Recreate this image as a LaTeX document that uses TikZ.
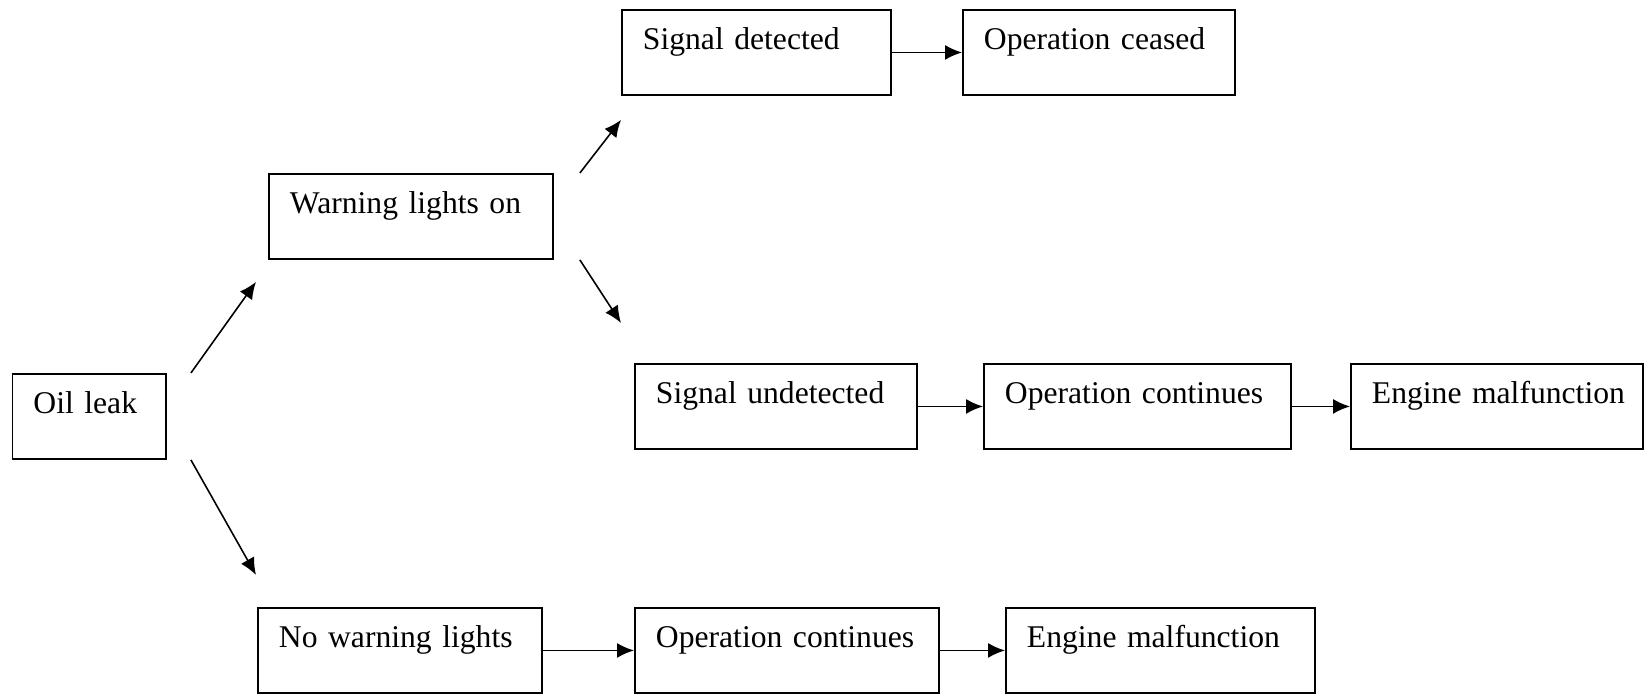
\documentclass[tikz,border=0pt]{standalone}
\usepackage{fontspec}
\setmainfont{Liberation Serif}
\usetikzlibrary{arrows.meta}
\tikzset{
  box/.style={draw, line width=1.1pt, anchor=north west, align=left,
    inner xsep=0.42cm, inner ysep=0pt, text height=0.8cm, text depth=0.9cm,
    font=\fontsize{18}{22}\selectfont},
  arr/.style={-{Latex[length=0.34cm,width=0.3cm]}, line width=0.9pt},
}
\begin{document}
\begin{tikzpicture}[x=0.02cm, y=0.02cm]
    \useasboundingbox (0,0) rectangle (1644,694);
    % boxes
    \node[box, text width=2.23cm] (oil) at (11.5,321) {\mbox{Oil leak}};
    \node[box, text width=4.84cm] (warn) at (268,521) {\mbox{Warning lights on}};
    \node[box, text width=4.54cm] (sdet) at (621,685) {\mbox{Signal detected}};
    \node[box, text width=4.60cm] (ceased) at (962,685) {\mbox{Operation ceased}};
    \node[box, text width=4.80cm] (sund) at (634,331) {\mbox{Signal undetected}};
    \node[box, text width=5.30cm] (opc1) at (983,331) {\mbox{Operation continues}};
    \node[box, text width=5.00cm] (eng1) at (1350,331) {\mbox{Engine malfunction}};
    \node[box, text width=4.84cm] (nowarn) at (257,87) {\mbox{No warning lights}};
    \node[box, text width=5.24cm] (opc2) at (634,87) {\mbox{Operation continues}};
    \node[box, text width=5.34cm] (eng2) at (1005,87) {\mbox{Engine malfunction}};
    % branches
    \draw[arr] ([shift={(24,0)}]oil.north east) -- ([shift={(-12,-22)}]warn.south west);
    \draw[arr] ([shift={(24,0)}]oil.south east) -- ([shift={(-1,32)}]nowarn.north west);
    \draw[arr] ([shift={(26,0)}]warn.north east) -- ([shift={(0,-24)}]sdet.south west);
    \draw[arr] ([shift={(26,0)}]warn.south east) -- ([shift={(-13,40)}]sund.north west);
    % chains
    \draw[arr] (sdet.east) -- (ceased.west);
    \draw[arr] (sund.east) -- (opc1.west);
    \draw[arr] (opc1.east) -- (eng1.west);
    \draw[arr] (nowarn.east) -- (opc2.west);
    \draw[arr] (opc2.east) -- (eng2.west);
\end{tikzpicture}
\end{document}
